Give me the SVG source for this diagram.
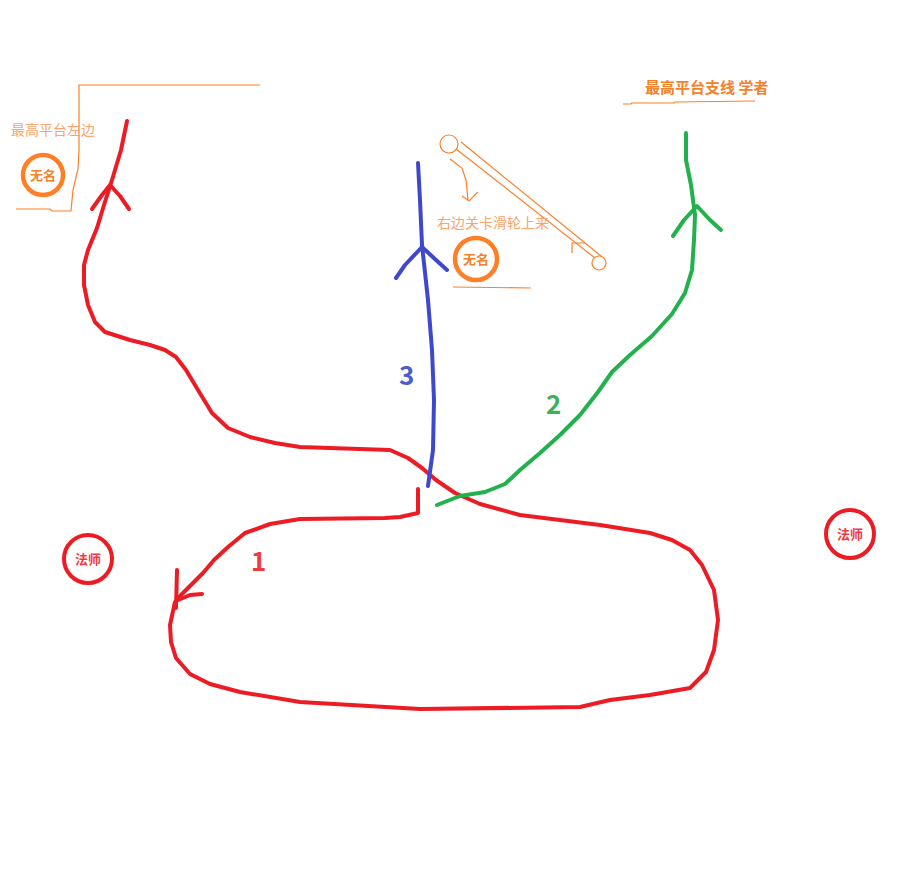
<svg xmlns="http://www.w3.org/2000/svg" width="910" height="879" viewBox="0 0 910 879">
<style>
.red{fill:none;stroke:#ed1c24;stroke-width:4;stroke-linecap:round;stroke-linejoin:round}
.blue{fill:none;stroke:#3f48cc;stroke-width:4;stroke-linecap:round;stroke-linejoin:round}
.green{fill:none;stroke:#22b14c;stroke-width:4;stroke-linecap:round;stroke-linejoin:round}
.thin{fill:none;stroke:#ff7f27;stroke-width:1.2}
.oc{fill:#fff;stroke:#ff7f27;stroke-width:4.5}
.rc{fill:#fff;stroke:#ed1c24;stroke-width:4}
.t{font-family:"Microsoft YaHei","Noto Sans CJK SC",sans-serif}
</style>
<rect width="910" height="879" fill="#fff"/>
<g id="connectors">
<path class="red" d="M127,121 L121,150 L112,180 L104,205 L97,228 L88,250 L84,265 L84,285 L88,305 L95,322 L105,332 L130,340 L150,345 L165,350 L176,357 L186,370 L198,390 L212,413 L228,428 L250,437 L275,443 L300,447 L390,450 L408,458 L422,468 L436,480 L455,493 L480,504 L520,515 L600,525 L650,533 L672,540 L690,550 L702,565 L714,590 L718,620 L714,650 L706,672 L690,688 L650,695 L610,700 L580,707 L420,709 L300,702 L240,692 L210,684 L190,674 L176,658 L171,642 L170,625 L175,602"/>
<path class="red" d="M418,489 L418,513 L400,517 L385,518 L300,519 L270,524 L245,533 L228,547 L214,560 L203,573 L192,584 L178,598"/>
<path class="red" d="M177,570 L176,608 M178,600 L190,595 L202,594"/>
<path class="red" d="M92,209 L102,195 L110,185 L120,196 L129,209"/>
<path class="blue" d="M418,163 L420,200 L422,245 L428,300 L432,350 L434,400 L433,450 L428,486"/>
<path class="blue" d="M396,278 L405,265 L422,247 L436,260 L447,270"/>
<path class="green" d="M437,505 L460,496 L485,492 L505,484 L520,470 L540,453 L560,435 L580,415 L598,392 L612,372 L630,355 L652,336 L672,314 L685,293 L692,270 L694,240 L695,215 L691,185 L686,160 L686,133"/>
<path class="green" d="M673,236 L684,220 L697,206 L710,220 L721,230"/>
<path class="thin" d="M16,209 L50,209 L52,211 L71,211 L73,190 L78,169 L79,150 L79,85 L260,85"/>
<path class="thin" d="M623,104 L631,104 L632,103 L674,103 L675,102 L755,101"/>
<path class="thin" d="M453,287 L531,288"/>
<circle class="thin" cx="449" cy="144" r="9"/>
<circle class="thin" cx="599" cy="263" r="7"/>
<path class="thin" d="M456,149 L595,258 M461,142 L601,256"/>
<path class="thin" d="M572,253 L572,243 L585,243"/>
<path class="thin" d="M450,159 L462,168 L466,180 L468,200 M462,196 L469,201 L478,192"/>
</g>
<g id="label-1"><text class="t" x="251" y="571" font-size="26" font-weight="bold" fill="#ee3b43">1</text></g>
<g id="label-2"><text class="t" x="546" y="414" font-size="26" font-weight="bold" fill="#3cb15a">2</text></g>
<g id="label-3"><text class="t" x="399" y="385" font-size="26" font-weight="bold" fill="#4c5ccf">3</text></g>
<g id="note-left"><text class="t" x="11" y="135" font-size="14" fill="#f8a46a">最高平台左边</text></g>
<g id="note-mid"><text class="t" x="437" y="228" font-size="14" fill="#f8a46a">右边关卡滑轮上来</text></g>
<g id="note-right"><text class="t" x="645" y="93" font-size="15" font-weight="bold" fill="#f5822a">最高平台支线 学者</text></g>
<g id="wuming-1"><circle class="oc" cx="43" cy="175" r="20"/><text class="t" x="43" y="180" font-size="13" font-weight="bold" fill="#f5822a" text-anchor="middle">无名</text></g>
<g id="wuming-2"><circle class="oc" cx="476" cy="259" r="21"/><text class="t" x="476" y="264" font-size="13" font-weight="bold" fill="#f5822a" text-anchor="middle">无名</text></g>
<g id="fashi-1"><circle class="rc" cx="88" cy="559" r="24"/><text class="t" x="88" y="564" font-size="13" font-weight="bold" fill="#ee3b43" text-anchor="middle">法师</text></g>
<g id="fashi-2"><circle class="rc" cx="850" cy="534" r="24"/><text class="t" x="850" y="539" font-size="13" font-weight="bold" fill="#ee3b43" text-anchor="middle">法师</text></g>
</svg>
